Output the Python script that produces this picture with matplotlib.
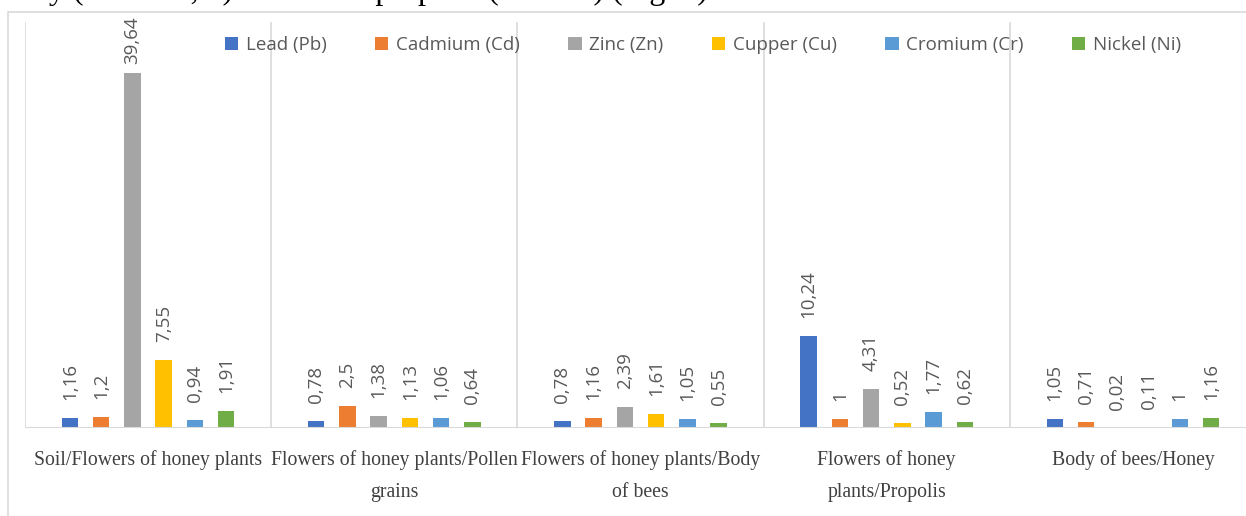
import matplotlib.pyplot as plt
import numpy as np
from matplotlib.patches import Rectangle

# Data
categories = ["Soil/Flowers of honey plants",
              "Flowers of honey plants/Pollen\ngrains",
              "Flowers of honey plants/Body\nof bees",
              "Flowers of honey\nplants/Propolis",
              "Body of bees/Honey"]
series_names = ["Lead (Pb)", "Cadmium (Cd)", "Zinc (Zn)", "Cupper (Cu)", "Cromium (Cr)", "Nickel (Ni)"]
lead = [1.16, 0.78, 0.78, 10.24, 1.05]
cadmium = [1.2, 2.5, 1.16, 1, 0.71]
zinc = [39.64, 1.38, 2.39, 4.31, 0.02]
cupper = [7.55, 1.13, 1.61, 0.52, 0.11]
cromium = [0.94, 1.06, 1.05, 1.77, 1]
nickel = [1.91, 0.64, 0.55, 0.62, 1.16]
series = [lead, cadmium, zinc, cupper, cromium, nickel]
colors = ["#4472C4", "#ED7D31", "#A5A5A5", "#FFC000", "#5B9BD5", "#70AD47"]

W, H = 1246, 516
fig = plt.figure(figsize=(W / 100, H / 100), dpi=100)

# outer chart border (cropped on right and bottom)
fig.patches.append(Rectangle((8 / W, -0.2), 1.5, 1 - 12 / H + 0.2, transform=fig.transFigure,
                             fill=False, edgecolor="#d9d9d9", lw=1.2))

# cropped line of document text above the chart
fig.text(40 / W, 1 + 1 / H, "ly (Tables 2, 3) and in the propolis (Table 4) (Fig. 3)",
         family="Liberation Serif", fontsize=23, color="black", va="baseline", ha="left")

# axes spans past the right edge of the picture
ax = fig.add_axes([25 / W, 88 / H, (1256 - 25) / W, 406 / H])
x = np.arange(len(categories))
ymax = 45.3
slot = 31.3 / 246.5
bw = 16.5 / 246.5
for j, (name, vals, c) in enumerate(zip(series_names, series, colors)):
    xs = x + (j - 2.5) * slot
    ax.bar(xs, vals, width=bw, color=c, label=name, zorder=3)
    for xi, v in zip(xs, vals):
        lab = f"{v:g}".replace(".", ",")
        if v > 0.8 * ymax:
            # label pushed down against the top of the chart
            ax.annotate(lab, (xi, ymax), xytext=(0, 4), textcoords="offset points", rotation=90,
                        ha="center", va="top", fontsize=13.5, color="#595959", family="Open Sans")
        else:
            ax.annotate(lab, (xi, v), xytext=(0, 13), textcoords="offset points", rotation=90,
                        ha="center", va="bottom", fontsize=13.5, color="#595959", family="Open Sans")

ax.set_xlim(-0.5, len(categories) - 0.5)
ax.set_ylim(0, ymax)
for b in np.arange(-0.5, len(categories) + 0.5):
    ax.axvline(b, color="#d9d9d9", lw=1.2, zorder=1)
ax.axhline(0, color="#d9d9d9", lw=1.5, zorder=4)
for s in ax.spines.values():
    s.set_visible(False)
ax.set_yticks([])
ax.set_xticks(x)
ax.set_xticklabels(categories, family="Liberation Serif", fontsize=14.2, color="#404040", linespacing=1.95)
ax.tick_params(axis="x", length=0, pad=16)

fig.legend(loc="center", bbox_to_anchor=(703 / W, 1 - 45 / H), ncol=6, frameon=False,
           prop={"family": "Open Sans", "size": 13.5}, labelcolor="#595959",
           handlelength=0.7, handleheight=0.7, handletextpad=0.4, columnspacing=2.6)

fig.savefig("out.png", dpi=100)
